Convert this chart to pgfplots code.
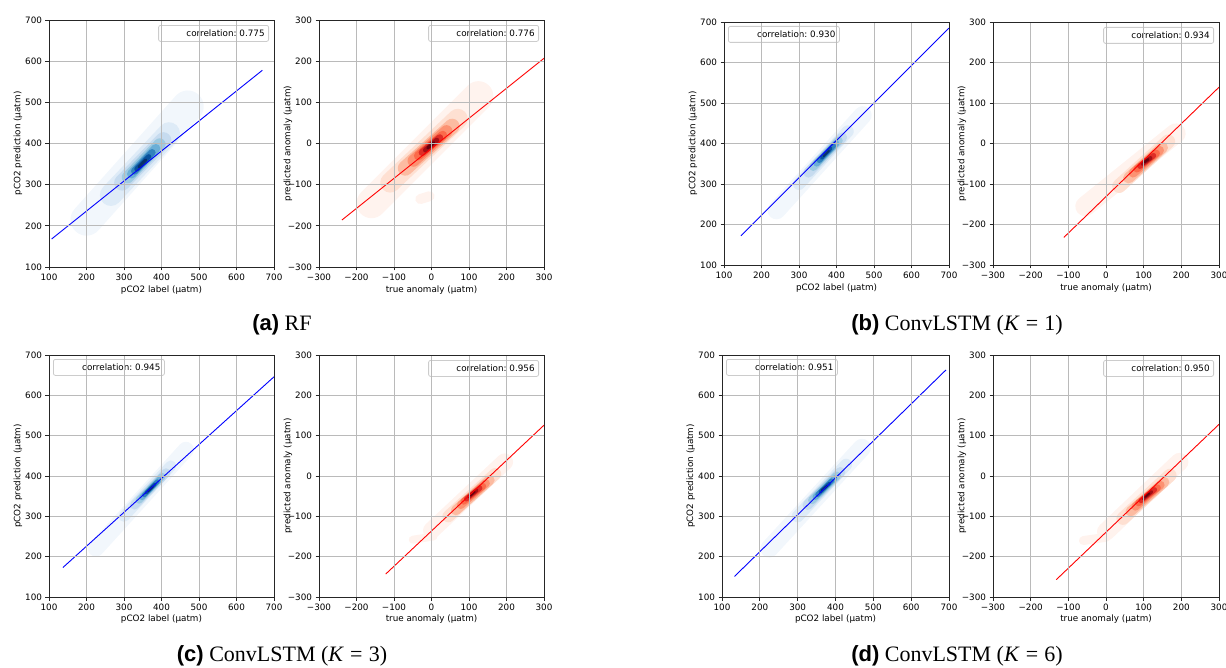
\documentclass[border=0pt]{standalone}
\usepackage{fontspec}
\setmainfont{Liberation Serif}
\setsansfont{Liberation Sans}
\newfontfamily\dejavu{DejaVu Sans}
\usepackage{pgfplots}
\pgfplotsset{compat=1.18}

\definecolor{b0}{HTML}{F2F7FC}
\definecolor{b1}{HTML}{DEEBF7}
\definecolor{b2}{HTML}{C6DBEF}
\definecolor{b3}{HTML}{9ECAE1}
\definecolor{b4}{HTML}{6BAED6}
\definecolor{b5}{HTML}{3182BD}
\definecolor{b6}{HTML}{08519C}
\definecolor{b7}{HTML}{08306B}
\definecolor{r0}{HTML}{FFF3EE}
\definecolor{r1}{HTML}{FEE0D2}
\definecolor{r2}{HTML}{FCBBA1}
\definecolor{r3}{HTML}{FC9272}
\definecolor{r4}{HTML}{FB6A4A}
\definecolor{r5}{HTML}{DE2D26}
\definecolor{r6}{HTML}{A50F15}
\definecolor{r7}{HTML}{67000D}

\newcommand\mplfont{\dejavu\fontsize{8.8}{10}\selectfont}
\newcommand\seg[4]{\addplot[draw=#1, line width=#2, line cap=round, forget plot] coordinates {(#3) (#4)};}

\tikzset{legbox/.style={draw=black!20, fill=white, rounded corners=2pt, line width=0.8pt,
  minimum height=16pt, inner xsep=0pt, inner ysep=0pt, font=\mplfont, text=black}}
\newcommand\corrNE[1]{\node[legbox, anchor=north east, xshift=-5pt, yshift=-5pt] at (rel axis cs:1,1) {\makebox[110pt][r]{correlation:~#1\kern4pt}};}
\newcommand\corrNW[1]{\node[legbox, anchor=north west, xshift=4pt, yshift=-4pt] at (rel axis cs:0,1) {\makebox[111pt][r]{correlation:~#1\kern4pt}};}

\pgfplotsset{
 mplbase/.style={
  scale only axis, axis on top, clip=true,
  grid=major, major grid style={draw=black!27, line width=0.8pt},
  axis line style={draw=black!85, line width=0.8pt},
  tick align=outside, major tick length=3.5pt,
  every tick/.style={draw=black!85, line width=0.8pt},
  xtick pos=left, ytick pos=left,
  ticklabel style={font=\mplfont, text=black},
  label style={font=\mplfont, text=black},
  xlabel style={at={(axis description cs:0.5,-0.093)}, anchor=center},
  ylabel style={at={(axis description cs:-0.138,0.5)}, anchor=center},
 },
 co2/.style={mplbase, xmin=100, xmax=700, ymin=100, ymax=700,
  xtick={100,200,...,700}, ytick={100,200,...,700},
  xticklabels={100,200,300,400,500,600,700},
  yticklabels={100,200,300,400,500,600,700},
  xlabel={pCO2 label (µatm)}, ylabel={pCO2 prediction (µatm)}},
 anom/.style={mplbase, xmin=-300, xmax=300, ymin=-300, ymax=300,
  xtick={-300,-200,...,300}, ytick={-300,-200,...,300},
  xticklabels={−300,−200,−100,0,100,200,300},
  yticklabels={−300,−200,−100,0,100,200,300},
  xlabel={true anomaly (µatm)}, ylabel={predicted anomaly (µatm)}},
}

\begin{document}
\begin{tikzpicture}
\useasboundingbox (0pt,0pt) rectangle (1226pt,667pt);

% ---------------- (a) RF
\begin{axis}[co2, at={(49pt,400pt)}, anchor=south west, width=225pt, height=247pt]
\seg{b0}{32pt}{200,215}{470,490}
\seg{b1}{22pt}{265,275}{420,425}
\seg{b2}{16pt}{295,305}{405,408}
\seg{b3}{12pt}{310,318}{395,398}
\seg{b4}{9pt}{320,326}{385,388}
\seg{b5}{7pt}{328,333}{375,378}
\seg{b6}{5pt}{334,338}{366,368}
\seg{b7}{3pt}{340,343}{358,360}
\addplot[blue, line width=0.9pt] coordinates {(107,168) (669,578)};
\corrNE{0.775}
\end{axis}
\begin{axis}[anom, at={(319pt,400pt)}, anchor=south west, width=225pt, height=247pt]
\seg{r0}{30pt}{-160,-145}{125,115}
\seg{r0}{10pt}{-30,-135}{-5,-128}
\seg{r1}{20pt}{-110,-95}{70,60}
\seg{r2}{15pt}{-70,-60}{55,42}
\seg{r3}{12pt}{-48,-42}{40,30}
\seg{r4}{9pt}{-35,-30}{30,20}
\seg{r5}{7pt}{-25,-22}{22,14}
\seg{r6}{5pt}{-16,-16}{14,8}
\seg{r7}{3pt}{-10,-11}{6,2}
\addplot[red, line width=0.9pt] coordinates {(-239,-186) (300,207)};
\corrNE{0.776}
\end{axis}
\node[anchor=base, font=\fontsize{22}{26}\selectfont] at (282pt,336pt) {\textsf{\bfseries (a)} RF};

% ---------------- (b) ConvLSTM K=1
\begin{axis}[co2, at={(724pt,402pt)}, anchor=south west, width=225pt, height=243pt]
\seg{b0}{18pt}{240,235}{470,470}
\seg{b1}{12pt}{300,300}{430,430}
\seg{b2}{10pt}{325,328}{415,415}
\seg{b3}{8pt}{338,342}{406,407}
\seg{b4}{6.5pt}{347,351}{399,400}
\seg{b5}{5pt}{354,358}{392,394}
\seg{b6}{3.5pt}{360,364}{385,388}
\seg{b7}{2pt}{366,369}{380,382}
\addplot[blue, line width=0.9pt] coordinates {(145,172) (700,685)};
\corrNW{0.930}
\end{axis}
\begin{axis}[anom, at={(993pt,402pt)}, anchor=south west, width=226pt, height=243pt]
\seg{r0}{20pt}{-55,-155}{185,25}
\seg{r1}{14pt}{35,-105}{165,5}
\seg{r2}{11pt}{60,-85}{150,-10}
\seg{r3}{9pt}{72,-73}{142,-17}
\seg{r4}{7pt}{82,-63}{134,-24}
\seg{r5}{5.5pt}{90,-56}{126,-30}
\seg{r6}{4pt}{97,-50}{118,-36}
\seg{r7}{2.5pt}{102,-46}{112,-39}
\addplot[red, line width=0.9pt] coordinates {(-112,-232) (300,139)};
\corrNE{0.934}
\end{axis}
\node[anchor=base, font=\fontsize{22}{26}\selectfont] at (957pt,336pt) {\textsf{\bfseries (b)} ConvLSTM (\textit{K}\hspace{0.28em}=\hspace{0.28em}1)};

% ---------------- (c) ConvLSTM K=3
\begin{axis}[co2, at={(49pt,70pt)}, anchor=south west, width=225pt, height=242pt]
\seg{b0}{16pt}{225,220}{465,465}
\seg{b1}{11pt}{300,300}{425,425}
\seg{b2}{9pt}{328,328}{412,408}
\seg{b3}{7pt}{340,340}{402,399}
\seg{b4}{5.5pt}{348,347}{395,392}
\seg{b5}{4.5pt}{354,353}{389,386}
\seg{b6}{3.2pt}{359,358}{383,380}
\seg{b7}{2pt}{364,362}{377,374}
\addplot[blue, line width=0.9pt] coordinates {(137,173) (700,646)};
\corrNW{0.945}
\end{axis}
\begin{axis}[anom, at={(319pt,70pt)}, anchor=south west, width=225pt, height=242pt]
\seg{r0}{8pt}{-50,-158}{5,-150}
\seg{r0}{17pt}{0,-135}{195,35}
\seg{r1}{12pt}{45,-100}{170,5}
\seg{r2}{10pt}{65,-85}{155,-10}
\seg{r3}{8pt}{78,-72}{145,-18}
\seg{r4}{6.5pt}{86,-63}{137,-25}
\seg{r5}{5pt}{93,-57}{129,-30}
\seg{r6}{3.5pt}{99,-52}{121,-35}
\seg{r7}{2pt}{104,-48}{115,-39}
\addplot[red, line width=0.9pt] coordinates {(-122,-243) (300,126)};
\corrNE{0.956}
\end{axis}
\node[anchor=base, font=\fontsize{22}{26}\selectfont] at (282pt,6pt) {\textsf{\bfseries (c)} ConvLSTM (\textit{K}\hspace{0.28em}=\hspace{0.28em}3)};

% ---------------- (d) ConvLSTM K=6
\begin{axis}[co2, at={(722pt,70pt)}, anchor=south west, width=227pt, height=242pt]
\seg{b0}{18pt}{225,220}{470,470}
\seg{b1}{12pt}{300,300}{428,428}
\seg{b2}{10pt}{326,328}{413,410}
\seg{b3}{8pt}{338,340}{404,401}
\seg{b4}{6pt}{347,348}{397,394}
\seg{b5}{4.8pt}{353,354}{390,388}
\seg{b6}{3.4pt}{359,360}{384,382}
\seg{b7}{2pt}{364,365}{378,376}
\addplot[blue, line width=0.9pt] coordinates {(133,151) (692,663)};
\corrNW{0.951}
\end{axis}
\begin{axis}[anom, at={(993pt,70pt)}, anchor=south west, width=226pt, height=242pt]
\seg{r0}{9pt}{-60,-160}{0,-152}
\seg{r0}{18pt}{0,-138}{195,35}
\seg{r1}{13pt}{45,-105}{170,2}
\seg{r2}{10pt}{65,-88}{155,-15}
\seg{r3}{8pt}{78,-76}{145,-22}
\seg{r4}{6.5pt}{86,-67}{137,-29}
\seg{r5}{5pt}{93,-61}{129,-34}
\seg{r6}{3.5pt}{99,-56}{121,-39}
\seg{r7}{2pt}{104,-52}{115,-43}
\addplot[red, line width=0.9pt] coordinates {(-132,-257) (300,128)};
\corrNE{0.950}
\end{axis}
\node[anchor=base, font=\fontsize{22}{26}\selectfont] at (957pt,6pt) {\textsf{\bfseries (d)} ConvLSTM (\textit{K}\hspace{0.28em}=\hspace{0.28em}6)};
\end{tikzpicture}
\end{document}
